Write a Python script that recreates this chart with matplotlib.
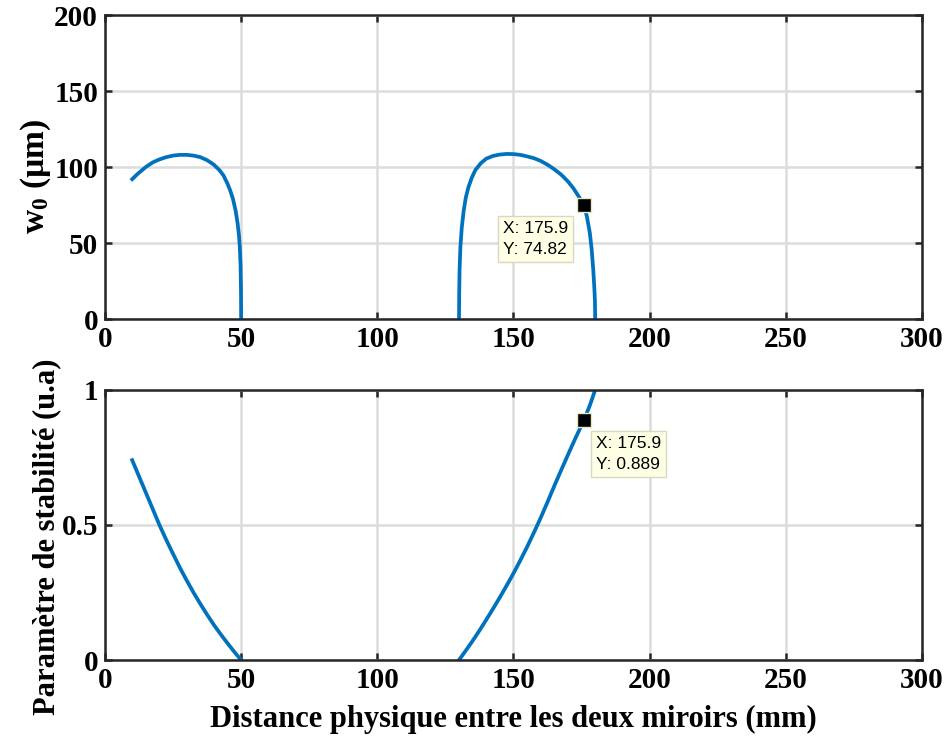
import numpy as np
import matplotlib
matplotlib.use('Agg')
import matplotlib.pyplot as plt

# waist w0 (um) vs distance (mm), two stable zones
d_zone1 = [10, 12, 15, 17.5, 20, 22.5, 25, 27.5, 30, 32.5, 35, 37.5, 40, 42,
           43.5, 45, 46, 47, 48, 48.7, 49.2, 49.5, 49.8, 49.95, 50]
w0_zone1 = [92, 95.5, 100, 103, 105, 106.5, 107.5, 108, 108, 107.5, 106.5, 104.5,
            101.5, 98, 94.5, 89, 84.5, 79, 71, 63, 55, 48, 35, 18, 0]
d_zone2 = [130, 130.05, 130.2, 130.5, 131, 131.7, 132.5, 133.5, 134.7, 136, 138,
           140, 142.5, 145, 147.5, 150, 152.5, 155, 157.5, 160, 162.5, 165, 167.5,
           170, 172, 174, 175.9, 177, 178, 178.7, 179.3, 179.7, 179.9, 180]
w0_zone2 = [0, 15, 32, 47, 60, 71, 80, 87, 93, 98, 102.5,
            105.5, 107.3, 108.2, 108.6, 108.5, 108, 107, 105.8, 104, 101.5, 98.5, 95,
            90.5, 86, 80.5, 74.82, 67, 57, 46, 32, 20, 12, 0]

# stability parameter (u.a)
s_d1 = [10, 12.5, 15, 17.5, 20, 22.5, 25, 27.5, 30, 32.5, 35, 37.5, 40, 42.5,
        45, 47.5, 50]
s_val1 = [0.74, 0.68, 0.62, 0.56, 0.50, 0.445, 0.393, 0.342, 0.295, 0.25, 0.208,
          0.168, 0.13, 0.095, 0.062, 0.03, 0.0]
s_d2 = [130, 132.5, 135, 137.5, 140, 142.5, 145, 147.5, 150, 152.5, 155, 157.5,
        160, 162.5, 165, 167.5, 170, 172.5, 175.9, 178, 180]
s_val2 = [0.0, 0.035, 0.071, 0.109, 0.149, 0.19, 0.232, 0.276, 0.321, 0.369, 0.419,
          0.472, 0.527, 0.585, 0.645, 0.703, 0.76, 0.816, 0.889, 0.942, 1.0]

tip_x = 175.9
tip_w0 = 74.82
tip_s = 0.889

xticks = [0, 50, 100, 150, 200, 250, 300]

plt.rcParams['font.family'] = 'Liberation Serif'
plt.rcParams['font.weight'] = 'bold'
plt.rcParams['mathtext.fontset'] = 'custom'
plt.rcParams['mathtext.rm'] = 'Liberation Serif'
plt.rcParams['mathtext.bf'] = 'Liberation Serif:bold'

blue = '#0072BD'
dark = '#262626'


def style_axes(ax):
   ax.grid(True, color='#dcdcdc', linewidth=1.8)
   ax.set_axisbelow(True)
   for sp in ax.spines.values():
      sp.set_color(dark)
      sp.set_linewidth(1.8)
   ax.tick_params(direction='in', length=5, width=1.8, colors=dark,
                  top=True, right=True, labelsize=21, pad=5)
   for lab in ax.get_xticklabels() + ax.get_yticklabels():
      lab.set_fontweight('bold')
      lab.set_color('black')


def data_tip(ax, x, y, text, offset):
   ax.plot(x, y, marker='s', markersize=10, color='black',
           markeredgecolor='#e8e8c0', markeredgewidth=1, zorder=5)
   ax.annotate(text, xy=(x, y), xytext=offset, textcoords='offset pixels',
               ha='left', va='top', fontsize=12.5, family='Liberation Sans',
               fontweight='normal', linespacing=1.5,
               bbox=dict(boxstyle='square,pad=0.3', fc='#FFFFE6',
                         ec='#d8d8c0', lw=1), zorder=6)


fig = plt.figure(figsize=(9.44, 7.4), dpi=100)
ax1 = fig.add_axes([0.1112, 0.5689, 0.8655, 0.4108])
ax2 = fig.add_axes([0.1112, 0.1081, 0.8655, 0.3649])

ax1.plot(d_zone1, w0_zone1, color=blue, linewidth=2.7)
ax1.plot(d_zone2, w0_zone2, color=blue, linewidth=2.7)
ax1.set_xlim(0, 300)
ax1.set_ylim(0, 200)
ax1.set_xticks(xticks)
ax1.set_yticks([0, 50, 100, 150, 200])
ax1.set_ylabel(r'$\mathbf{w_0}$ (µm)', fontsize=24, fontweight='bold')
ax1.yaxis.set_label_coords(-0.063, 0.47)
style_axes(ax1)
data_tip(ax1, tip_x, tip_w0, 'X: 175.9\nY: 74.82', (-81, -16))

ax2.plot(s_d1, s_val1, color=blue, linewidth=2.7)
ax2.plot(s_d2, s_val2, color=blue, linewidth=2.7)
ax2.set_xlim(0, 300)
ax2.set_ylim(0, 1)
ax2.set_xticks(xticks)
ax2.set_yticks([0, 0.5, 1])
ax2.set_yticklabels(['0', '0.5', '1'])
ax2.set_ylabel('Paramètre de stabilité (u.a)', fontsize=22, fontweight='bold')
ax2.yaxis.set_label_coords(-0.054, 0.455)
ax2.set_xlabel('Distance physique entre les deux miroirs (mm)', fontsize=22,
               fontweight='bold', labelpad=8)
style_axes(ax2)
data_tip(ax2, tip_x, tip_s, 'X: 175.9\nY: 0.889', (12, -16))

fig.savefig('out.png', dpi=100)
